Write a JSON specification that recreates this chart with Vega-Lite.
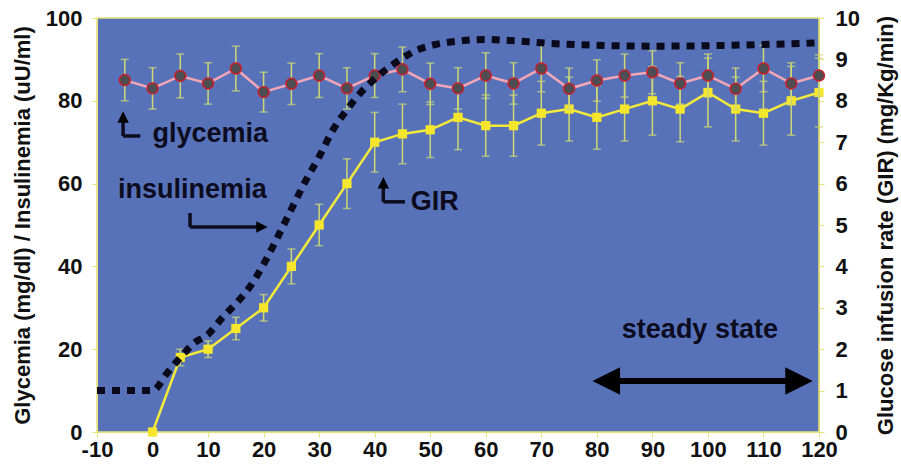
{
  "$schema": "https://vega.github.io/schema/vega-lite/v6.json",
  "width": 722,
  "height": 414,
  "autosize": {"type": "none"},
  "padding": {"left": 97, "top": 18, "right": 82, "bottom": 42},
  "background": "white",
  "config": {
    "view": {"fill": "#5872ba", "stroke": "#e6e27a", "strokeWidth": 1.5},
    "font": "Liberation Sans",
    "axis": {
      "labelFont": "Liberation Sans", "labelFontWeight": "bold", "labelFontSize": 22, "labelColor": "#111111",
      "titleFont": "Liberation Sans", "titleFontWeight": "bold", "titleFontSize": 22, "titleColor": "#111111",
      "grid": false, "tickColor": "#e6e27a", "domainColor": "#e6e27a", "tickSize": 5, "labelFlush": false, "labelOverlap": false
    }
  },
  "layer": [
    {
      "encoding": {
        "x": {"field": "t", "type": "quantitative", "scale": {"domain": [-10, 120], "nice": false, "zero": false},
              "axis": {"title": null, "values": [-10,0,10,20,30,40,50,60,70,80,90,100,110,120], "labelPadding": 2, "orient": "bottom",
                       "labelExpr": "'' + datum.value"}},
        "y": {"field": "g", "type": "quantitative", "scale": {"domain": [0, 10], "nice": false, "zero": true},
              "axis": {"orient": "right", "title": "Glucose infusion rate (GIR) (mg/Kg/min)", "values": [0,1,2,3,4,5,6,7,8,9,10],
                       "labelPadding": 11, "titleAngle": -90, "titleX": 66, "titleY": 207, "titleAlign": "center", "titleBaseline": "middle"}}
      },
      "data": {"values": [
        {"t": 0, "g": 0, "e": 0},
        {"t": 5, "g": 1.8, "e": 0.2},
        {"t": 10, "g": 2.0, "e": 0.2},
        {"t": 15, "g": 2.5, "e": 0.27},
        {"t": 20, "g": 3.0, "e": 0.32},
        {"t": 25, "g": 4.0, "e": 0.42},
        {"t": 30, "g": 5.0, "e": 0.5},
        {"t": 35, "g": 6.0, "e": 0.6},
        {"t": 40, "g": 7.0, "e": 0.72},
        {"t": 45, "g": 7.2, "e": 0.72},
        {"t": 50, "g": 7.3, "e": 0.67},
        {"t": 55, "g": 7.6, "e": 0.78},
        {"t": 60, "g": 7.4, "e": 0.74},
        {"t": 65, "g": 7.4, "e": 0.74},
        {"t": 70, "g": 7.7, "e": 0.77},
        {"t": 75, "g": 7.8, "e": 0.77},
        {"t": 80, "g": 7.6, "e": 0.77},
        {"t": 85, "g": 7.8, "e": 0.77},
        {"t": 90, "g": 8.0, "e": 0.83},
        {"t": 95, "g": 7.8, "e": 0.79},
        {"t": 100, "g": 8.2, "e": 0.83},
        {"t": 105, "g": 7.8, "e": 0.77},
        {"t": 110, "g": 7.7, "e": 0.77},
        {"t": 115, "g": 8.0, "e": 0.83},
        {"t": 120, "g": 8.2, "e": 0.83}
      ]},
      "layer": [
        {"mark": {"type": "errorbar", "thickness": 1.5, "rule": {"color": "#cfd874"}, "ticks": {"color": "#cfd874", "size": 8}},
         "encoding": {"yError": {"field": "e"}}},
        {"mark": {"type": "line", "color": "#f4ea3a", "strokeWidth": 2.5}},
        {"mark": {"type": "point", "shape": "square", "filled": true, "color": "#f4e62c", "size": 85, "opacity": 1}}
      ]
    },
    {
      "encoding": {
        "x": {"field": "t", "type": "quantitative", "scale": {"domain": [-10, 120], "nice": false, "zero": false},
              "axis": {"title": null, "values": [-10,0,10,20,30,40,50,60,70,80,90,100,110,120], "labelPadding": 2, "orient": "bottom",
                       "labelExpr": "'' + datum.value"}},
        "y": {"field": "v", "type": "quantitative", "scale": {"domain": [0, 100], "nice": false, "zero": true},
              "axis": {"orient": "left", "title": "Glycemia (mg/dl) / Insulinemia (uU/ml)", "values": [0,20,40,60,80,100],
                       "labelPadding": 10, "titleAngle": -90, "titleX": -75, "titleY": 207, "titleAlign": "center", "titleBaseline": "middle"}}
      },
      "layer": [
        {
          "data": {"values": [
            {"t": -5, "v": 85, "e": 5}, {"t": 0, "v": 83, "e": 5}, {"t": 5, "v": 86, "e": 5.3},
            {"t": 10, "v": 84.2, "e": 5}, {"t": 15, "v": 87.8, "e": 5.4}, {"t": 20, "v": 82.1, "e": 4.8},
            {"t": 25, "v": 84.1, "e": 5}, {"t": 30, "v": 86.1, "e": 5.3}, {"t": 35, "v": 83, "e": 5},
            {"t": 40, "v": 86.1, "e": 5.3}, {"t": 45, "v": 87.6, "e": 5.4}, {"t": 50, "v": 84.1, "e": 5},
            {"t": 55, "v": 83, "e": 5}, {"t": 60, "v": 86.1, "e": 5.5}, {"t": 65, "v": 84.2, "e": 5},
            {"t": 70, "v": 87.8, "e": 5.6}, {"t": 75, "v": 82.9, "e": 5}, {"t": 80, "v": 84.9, "e": 5},
            {"t": 85, "v": 86.1, "e": 5.2}, {"t": 90, "v": 86.9, "e": 5.2}, {"t": 95, "v": 84.2, "e": 5},
            {"t": 100, "v": 86.1, "e": 5.2}, {"t": 105, "v": 82.9, "e": 5}, {"t": 110, "v": 87.8, "e": 5.6},
            {"t": 115, "v": 84.2, "e": 5}, {"t": 120, "v": 86.1, "e": 5}
          ]},
          "layer": [
            {"mark": {"type": "errorbar", "thickness": 1.5, "rule": {"color": "#cfd874"}, "ticks": {"color": "#cfd874", "size": 8}},
             "encoding": {"yError": {"field": "e"}}},
            {"mark": {"type": "line", "color": "#f2a6b6", "strokeWidth": 2.5}},
            {"mark": {"type": "point", "shape": "circle", "filled": true, "fill": "#4e4e52", "stroke": "#c8202c", "strokeWidth": 1.5, "size": 120, "opacity": 1}}
          ]
        },
        {
          "data": {"values": [
            {"t": -10, "v": 10}, {"t": -5, "v": 10}, {"t": 0, "v": 10}, {"t": 2.5, "v": 14},
            {"t": 5, "v": 18}, {"t": 7.5, "v": 21.5}, {"t": 10, "v": 23.6}, {"t": 12.5, "v": 27.5},
            {"t": 15, "v": 31}, {"t": 17.5, "v": 35}, {"t": 20, "v": 40.5}, {"t": 22.5, "v": 47},
            {"t": 25, "v": 53.8}, {"t": 27.5, "v": 60.5}, {"t": 30, "v": 66.5}, {"t": 32.5, "v": 73},
            {"t": 35, "v": 77.8}, {"t": 37.5, "v": 82}, {"t": 40, "v": 85.3}, {"t": 42.5, "v": 88},
            {"t": 45, "v": 90.3}, {"t": 47.5, "v": 92.2}, {"t": 50, "v": 93.3}, {"t": 55, "v": 94.4},
            {"t": 60, "v": 94.8}, {"t": 65, "v": 94.5}, {"t": 70, "v": 94}, {"t": 80, "v": 93.4},
            {"t": 90, "v": 93.2}, {"t": 100, "v": 93.3}, {"t": 110, "v": 93.6}, {"t": 120, "v": 94}
          ]},
          "mark": {"type": "line", "color": "#0a0a1c", "strokeWidth": 7, "strokeDash": [8, 7], "strokeCap": "butt", "interpolate": "monotone"}
        },
        {
          "data": {"values": [
            {"t": 0, "v": 70, "label": "glycemia"},
            {"t": -6.2, "v": 56.5, "label": "insulinemia"},
            {"t": 46.5, "v": 53.6, "label": "GIR"},
            {"t": 84.5, "v": 22.7, "label": "steady state"}
          ]},
          "mark": {"type": "text", "align": "left", "baseline": "alphabetic", "fontSize": 27, "fontWeight": "bold", "font": "Liberation Sans", "color": "#0c0c1e"},
          "encoding": {"text": {"field": "label"}}
        },
        {
          "data": {"values": [
            {"t": -5.3, "v": 71.5, "t2": -5.3, "v2": 75.5},
            {"t": -5.3, "v": 71.5, "t2": -2.2, "v2": 71.5},
            {"t": 6.75, "v": 52.9, "t2": 6.75, "v2": 49.5},
            {"t": 6.75, "v": 49.5, "t2": 19.5, "v2": 49.5},
            {"t": 41.55, "v": 55.6, "t2": 41.55, "v2": 60.0},
            {"t": 41.55, "v": 55.6, "t2": 45.45, "v2": 55.6}
          ]},
          "mark": {"type": "rule", "color": "#0c0c1e", "strokeWidth": 3.5},
          "encoding": {"x2": {"field": "t2"}, "y2": {"field": "v2"}}
        },
        {
          "data": {"values": [
            {"t": 81.5, "v": 12.3, "t2": 116.5, "v2": 12.3}
          ]},
          "mark": {"type": "rule", "color": "#000000", "strokeWidth": 6},
          "encoding": {"x2": {"field": "t2"}, "y2": {"field": "v2"}}
        },
        {
          "data": {"values": [
            {"t": -5.3, "v": 76.1, "dir": "up", "kind": "small"},
            {"t": 41.55, "v": 60.2, "dir": "up", "kind": "small"},
            {"t": 19.7, "v": 49.5, "dir": "right", "kind": "small"},
            {"t": 81.7, "v": 12.3, "dir": "left", "kind": "big"},
            {"t": 116.4, "v": 12.3, "dir": "right", "kind": "big"}
          ]},
          "mark": {"type": "point", "filled": true, "color": "#000000", "opacity": 1},
          "encoding": {
            "shape": {"field": "dir", "type": "nominal", "legend": null,
                      "scale": {"domain": ["up", "right", "left"], "range": ["M0,-1L1,1L-1,1Z", "M1,0L-1,-1L-1,1Z", "M-1,0L1,-1L1,1Z"]}},
            "size": {"field": "kind", "type": "nominal", "legend": null,
                     "scale": {"domain": ["small", "big"], "range": [130, 760]}}
          }
        }
      ]
    }
  ],
  "resolve": {"scale": {"y": "independent", "shape": "independent", "size": "independent"}}
}
